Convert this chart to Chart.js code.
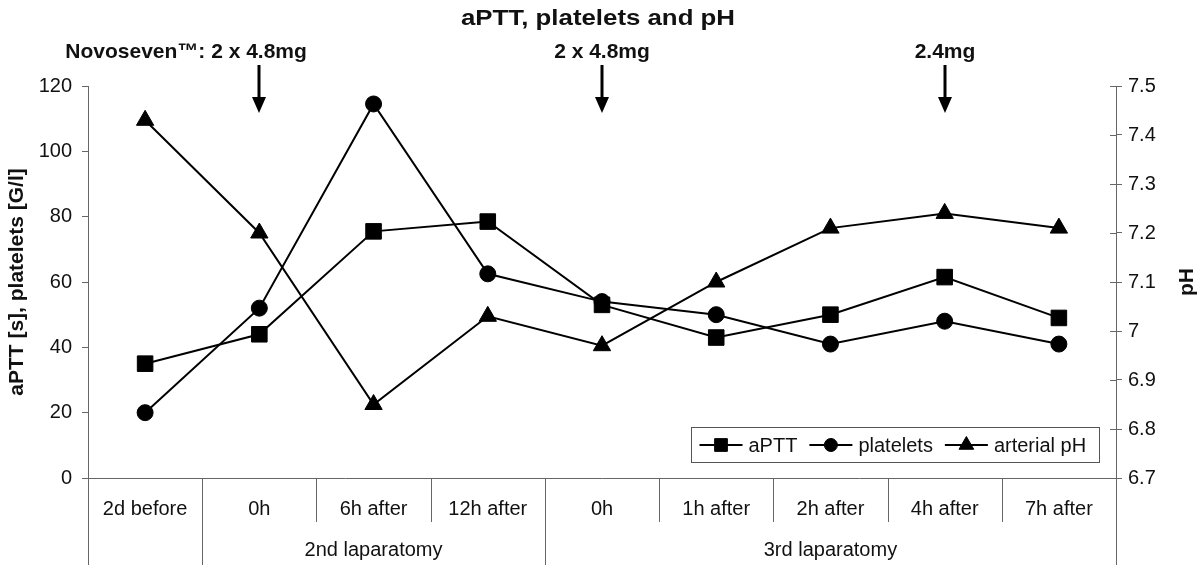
<!DOCTYPE html>
<html>
<head>
<meta charset="utf-8">
<title>aPTT, platelets and pH</title>
<script src="https://cdn.jsdelivr.net/npm/chart.js@4.4.1/dist/chart.umd.min.js"></script>
<style>
  html, body { margin: 0; padding: 0; background: #fff; }
  canvas { display: block; }
</style>
</head>
<body>
<canvas id="chart" width="1200" height="572"></canvas>
<script>
const categories = ['2d before', '0h', '6h after', '12h after', '0h', '1h after', '2h after', '4h after', '7h after'];
const groupLabels = ['', '2nd laparatomy', '3rd laparatomy'];
const groupStart = [0, 1, 4];
const groupEnd = [0, 3, 8];

const aptt = [35, 44, 75.5, 78.5, 53, 43, 50, 61.5, 49];
const platelets = [20, 52, 114.5, 62.5, 54, 50, 41, 48, 41];
const arterialPh = [7.43, 7.2, 6.85, 7.03, 6.97, 7.1, 7.21, 7.24, 7.21];

const leftMin = 0, leftMax = 120, leftStep = 20;
const phMin = 6.7, phMax = 7.5, phStep = 0.1;

const doseIndex = [1, 4, 7];
const doseLabels = ['Novoseven™: 2 x 4.8mg', '2 x 4.8mg', '2.4mg'];

const FONT = '"Liberation Sans", Arial, sans-serif';
Chart.defaults.font.family = FONT;
Chart.defaults.color = '#111';

function seg(ctx, x1, y1, x2, y2) {
  ctx.beginPath();
  ctx.moveTo(x1, y1);
  ctx.lineTo(x2, y2);
  ctx.stroke();
}

const overlay = {
  id: 'overlay',
  afterDraw(chart) {
    const { ctx, chartArea: a, scales } = chart;
    const n = categories.length;
    const bin = (a.right - a.left) / n;
    const L = Math.round(a.left) + 0.5, R = Math.round(a.right) + 0.5;
    const B = Math.round(a.bottom) + 0.5;
    ctx.save();

    // axes and category separators
    ctx.strokeStyle = '#666';
    ctx.lineWidth = 1;
    seg(ctx, L, B, R, B);
    seg(ctx, L, a.top, L, 565);
    seg(ctx, R, a.top, R, 565);
    const groupEdges = groupStart.concat([n]);
    for (let i = 1; i < n; i++) {
      const px = Math.round(a.left + i * bin) + 0.5;
      seg(ctx, px, B, px, groupEdges.includes(i) ? 565 : 522);
    }
    // inward half of the pH ticks
    scales.ph.ticks.forEach(t => {
      const py = Math.round(scales.ph.getPixelForValue(t.value)) + 0.5;
      seg(ctx, a.right - 6, py, a.right, py);
    });

    // category and group labels
    ctx.fillStyle = '#111';
    ctx.font = '20px ' + FONT;
    ctx.textAlign = 'center';
    ctx.textBaseline = 'alphabetic';
    categories.forEach((c, i) => ctx.fillText(c, scales.x.getPixelForValue(i), 515));
    groupLabels.forEach((g, k) => {
      if (!g) return;
      const cx = (a.left + groupStart[k] * bin + a.left + (groupEnd[k] + 1) * bin) / 2;
      ctx.fillText(g, cx, 556);
    });

    // title
    ctx.font = 'bold 22px ' + FONT;
    const title = 'aPTT, platelets and pH';
    const tw = ctx.measureText(title).width;
    ctx.save();
    ctx.translate(598, 25);
    ctx.scale(274 / tw, 1);
    ctx.fillText(title, 0, 0);
    ctx.restore();

    // axis titles
    ctx.font = 'bold 21px ' + FONT;
    ctx.textBaseline = 'middle';
    ctx.save();
    ctx.translate(17, (a.top + a.bottom) / 2);
    ctx.rotate(-Math.PI / 2);
    ctx.fillText('aPTT [s], platelets [G/l]', 0, 0);
    ctx.restore();
    ctx.save();
    ctx.translate(1187, (a.top + a.bottom) / 2);
    ctx.rotate(-Math.PI / 2);
    ctx.fillText('pH', 0, 0);
    ctx.restore();

    // Novoseven doses with arrows
    ctx.textBaseline = 'alphabetic';
    const shortW = ctx.measureText(doseLabels[1]).width;
    doseIndex.forEach((di, k) => {
      const ax = Math.round(scales.x.getPixelForValue(di));
      if (k === 0) {
        ctx.textAlign = 'right';
        ctx.fillText(doseLabels[k], ax + shortW / 2, 58);
      } else {
        ctx.textAlign = 'center';
        ctx.fillText(doseLabels[k], ax, 58);
      }
      ctx.fillStyle = '#000';
      ctx.fillRect(ax - 1.5, 65, 3, 35);
      ctx.beginPath();
      ctx.moveTo(ax - 7, 97);
      ctx.lineTo(ax + 7, 97);
      ctx.lineTo(ax, 113);
      ctx.closePath();
      ctx.fill();
      ctx.fillStyle = '#111';
    });

    // legend
    const box = { x: 691.5, y: 427.5, w: 408, h: 35 };
    ctx.fillStyle = '#fff';
    ctx.fillRect(box.x, box.y, box.w, box.h);
    ctx.strokeStyle = '#555';
    ctx.strokeRect(box.x, box.y, box.w, box.h);
    ctx.font = '20px ' + FONT;
    ctx.textAlign = 'left';
    ctx.textBaseline = 'middle';
    const my = box.y + box.h / 2;
    const legendRadius = [9, 6.5, 8.5];
    let lx = box.x + 8;
    chart.data.datasets.forEach((ds, i) => {
      ctx.strokeStyle = '#000';
      ctx.lineWidth = 2;
      seg(ctx, lx, my, lx + 43, my);
      ctx.fillStyle = '#000';
      ctx.lineWidth = 1;
      Chart.helpers.drawPoint(ctx, { pointStyle: ds.pointStyle, rotation: 0, radius: legendRadius[i], borderWidth: 1 }, lx + 21.5, my);
      ctx.fillStyle = '#111';
      ctx.fillText(ds.label, lx + 49, my + 1);
      lx += 49 + ctx.measureText(ds.label).width + 12;
    });
    ctx.restore();
  }
};

const lineStyle = { borderColor: '#000', backgroundColor: '#000', pointBackgroundColor: '#000', pointBorderColor: '#000', borderWidth: 2, pointBorderWidth: 1, tension: 0 };

new Chart(document.getElementById('chart'), {
  type: 'line',
  data: {
    labels: categories,
    datasets: [
      Object.assign({ label: 'aPTT', data: aptt, yAxisID: 'y', pointStyle: 'rect', pointRadius: 11 }, lineStyle),
      Object.assign({ label: 'platelets', data: platelets, yAxisID: 'y', pointStyle: 'circle', pointRadius: 8 }, lineStyle),
      Object.assign({ label: 'arterial pH', data: arterialPh, yAxisID: 'ph', pointStyle: 'triangle', pointRadius: 10 }, lineStyle)
    ]
  },
  options: {
    responsive: false,
    animation: false,
    layout: { padding: { top: 86, bottom: 94, left: 0, right: 0 } },
    plugins: { legend: { display: false }, tooltip: { enabled: false } },
    scales: {
      x: { type: 'category', offset: true, display: false },
      y: {
        position: 'left', min: leftMin, max: leftMax,
        ticks: { stepSize: leftStep, padding: 10, font: { size: 20 } },
        grid: { drawOnChartArea: false, tickLength: 6, color: '#666' },
        border: { display: false },
        afterFit(s) { s.width = 88; }
      },
      ph: {
        position: 'right', min: phMin, max: phMax,
        ticks: { stepSize: phStep, padding: 6, font: { size: 20 }, callback: v => String(Number(v.toFixed(1))) },
        grid: { drawOnChartArea: false, tickLength: 6, color: '#666' },
        border: { display: false },
        afterFit(s) { s.width = 84; }
      }
    }
  },
  plugins: [overlay]
});
</script>
</body>
</html>
